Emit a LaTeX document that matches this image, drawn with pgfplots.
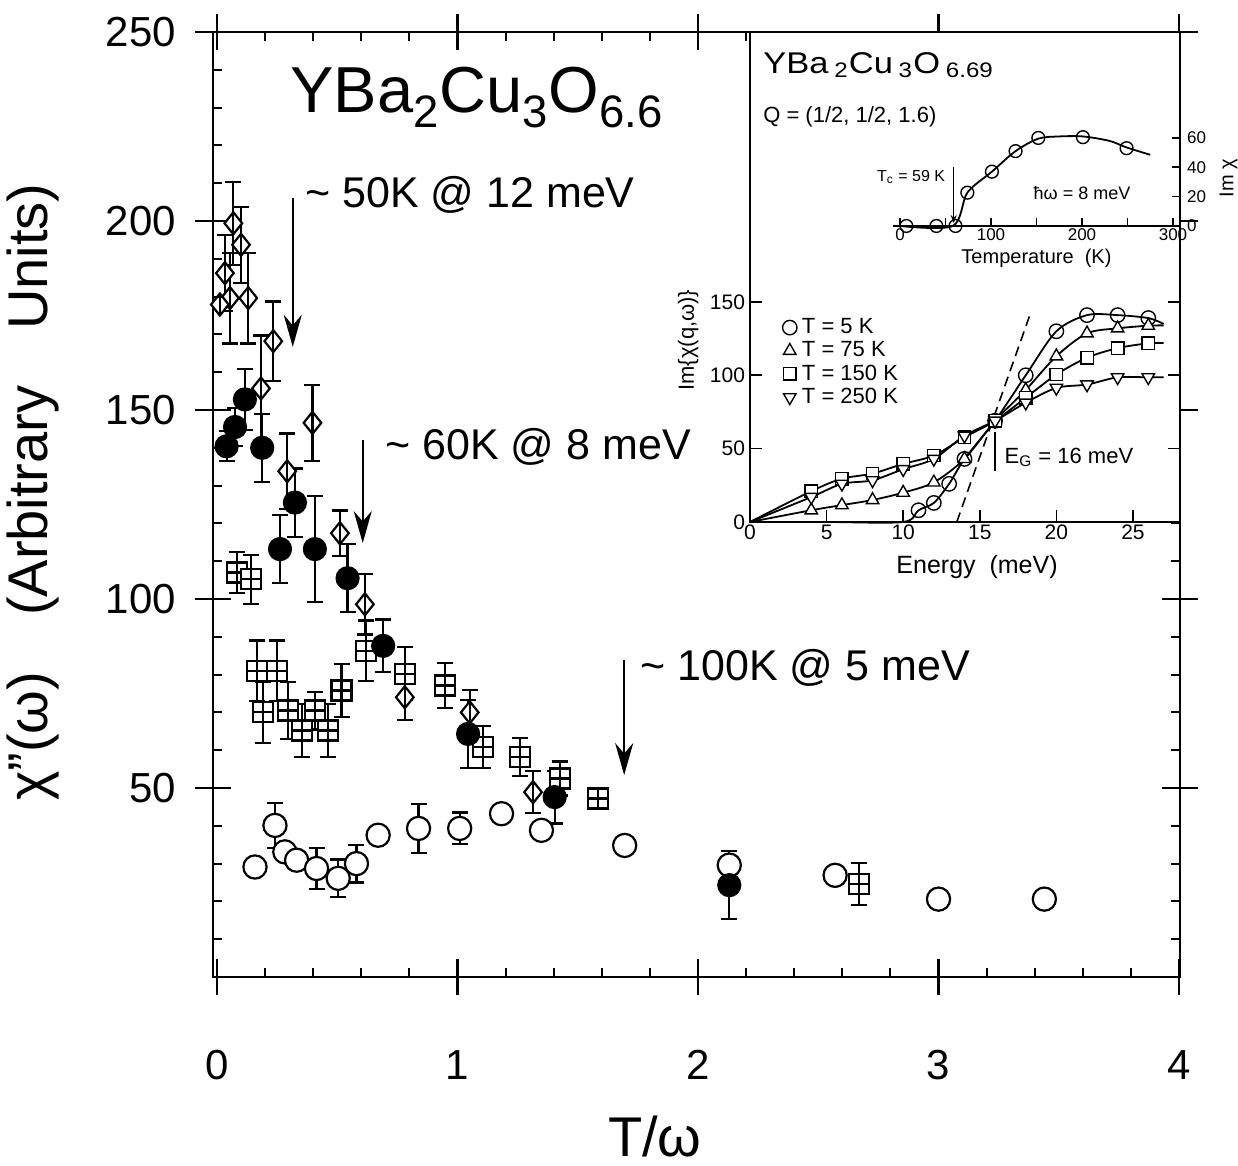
\documentclass[border=0pt]{standalone}
\usepackage{pgfplots}
\usepackage{pgfplotstable}
\pgfplotsset{compat=1.18}
\pgfplotsset{/pgf/number format/assume math mode=true}
\usepackage{fontspec}
\setmainfont{Liberation Sans}
\usetikzlibrary{arrows.meta}
\newcommand\fs[1]{\fontsize{#1}{#1}\selectfont}

\pgfdeclareplotmark{dline}{%
  \pgfpathmoveto{\pgfpoint{0pt}{\pgfplotmarksize}}%
  \pgfpathlineto{\pgfpoint{0.8\pgfplotmarksize}{0pt}}%
  \pgfpathlineto{\pgfpoint{0pt}{-\pgfplotmarksize}}%
  \pgfpathlineto{\pgfpoint{-0.8\pgfplotmarksize}{0pt}}%
  \pgfpathclose
  \pgfusepathqfillstroke
  \pgfpathmoveto{\pgfpoint{0pt}{\pgfplotmarksize}}%
  \pgfpathlineto{\pgfpoint{0pt}{-\pgfplotmarksize}}%
  \pgfusepathqstroke}
\pgfdeclareplotmark{sqplus}{%
  \pgfpathrectangle{\pgfpoint{-\pgfplotmarksize}{-\pgfplotmarksize}}{\pgfpoint{2\pgfplotmarksize}{2\pgfplotmarksize}}%
  \pgfusepathqfillstroke
  \pgfpathmoveto{\pgfpoint{-\pgfplotmarksize}{0pt}}%
  \pgfpathlineto{\pgfpoint{\pgfplotmarksize}{0pt}}%
  \pgfpathmoveto{\pgfpoint{0pt}{-\pgfplotmarksize}}%
  \pgfpathlineto{\pgfpoint{0pt}{\pgfplotmarksize}}%
  \pgfusepathqstroke}

% main data: x y err
\pgfplotstableread{
x y e
0.068 199.4 11
0.100 193.7 10
0.033 186.2 10
0.054 179.6 12
0.130 179.6 12
0.012 177.9 0
0.234 168.2 10.5
0.183 155.7 14
0.397 146.6 10
0.292 133.8 10
0.511 117.4 6
0.615 98.6 8
0.781 74.0 6
1.051 70.0 6
1.314 48.9 5.5
}\diamonds
\pgfplotstableread{
x y e
0.040 140.4 4
0.075 145.5 5
0.116 152.8 8
0.188 140.0 9
0.324 125.5 9
0.262 113.2 9
0.407 113.2 14
0.543 105.5 9
0.691 87.6 7
1.044 64.3 9
1.404 47.6 7
2.130 24.3 9
}\filled
\pgfplotstableread{
x y e
0.082 107.0 5.5
0.140 105.2 6.5
0.165 81.0 8
0.250 81.0 8
0.192 70.0 8
0.296 70.5 7.5
0.352 65.2 7
0.407 70.5 5
0.462 65.2 7
0.518 75.8 7
0.620 86.3 8
0.781 80.2 7
0.947 77.1 6
1.106 60.8 5.5
1.259 58.2 5
1.425 52.5 4.5
1.584 47.2 2
2.670 24.6 5.5
}\squares
\pgfplotstableread{
x y e
0.158 29.1 0
0.241 40.1 6
0.282 33.1 0
0.331 30.9 0
0.414 28.7 5.5
0.504 26.1 5
0.580 30.0 5
0.670 37.5 0
0.838 39.3 6.5
1.009 39.3 4.2
1.183 43.2 0
1.349 38.8 0
1.695 34.8 0
2.130 29.6 0
2.570 26.9 0
3.000 20.6 1.5
3.440 20.6 0
}\opencirc
% inset: energy scans
\pgfplotstableread{
E I
0 0
5 0
10 0
11 8
12 13
13 26
14 43
16 69
18 100
20 130
22 141
24 141
26 139
27 135
}\tfive
\pgfplotstableread{
E I
0 0
4 8
6 11.5
8 15
10 20
12 27
14 43
16 69
18 90
20 113
22 128.6
24 132
26 133.8
27 134
}\tseventyfive
\pgfplotstableread{
E I
0 0
4 21
6 29.5
8 33
10 39.6
12 45.3
14 57.7
16 69
18 84.7
20 100.5
22 112
24 118.5
26 121.8
27 122
}\tonefifty
\pgfplotstableread{
E I
0 0
4 17
6 26
8 28.4
10 36
12 43
14 58.8
16 69
18 81.3
20 91.4
22 93.7
24 98.6
26 98.6
27 98.6
}\ttwofifty
% inset: temperature scan at 8 meV
\pgfplotstableread{
T I
7 0
40 0
61 0
74 22.7
101 37
127 51
152 60
201 60.5
249 53
}\tscan
\pgfplotstableread{
T I
0 0
58 0
74 22.7
101 37
127 51
152 59.5
175 61
201 61
230 58
249 53.5
275 48.5
}\tcurve

\pgfplotsset{
  ebar/.style={error bars/.cd, y dir=both, y explicit,
    error bar style={line width=1.1pt, black},
    error mark=-,
    error mark options={rotate=90, line width=1.1pt, mark size=4pt, black}},
}

\begin{document}
\begin{tikzpicture}
\useasboundingbox (-106.5pt,-94.5pt) rectangle (512.5pt,488.5pt);
% ---------------- main axis
\begin{axis}[
  at={(0pt,0pt)}, anchor=south west,
  scale only axis, width=483.5pt, height=472.5pt,
  xmin=-0.0166, xmax=4.004, ymin=0, ymax=250,
  xtick={0,1,2,3,4}, xticklabels={0,1,2,3,4},
  ytick={50,100,150,200,250}, yticklabels={50,100,150,200,250},
  tick align=center, major tick length=18pt,
  tick style={line width=1.1pt, black},
  axis line style={line width=1.1pt},
  ticklabel style={font=\fs{21}},
  xticklabel style={anchor=base, yshift=-42.5pt},
  yticklabel style={xshift=-6pt},
  xlabel={T/ω},
  ylabel={χ\symbol{34}(ω)\quad(Arbitrary\quad Units)},
  xlabel style={at={(axis description cs:0.457,-0.169)}, anchor=center, font=\fs{28}},
  ylabel style={at={(axis description cs:-0.186,0.513)}, anchor=center, font=\fs{28}},
  clip=false,
  every axis plot/.append style={line width=1.1pt},
]
\addplot[only marks, mark=*, mark size=5.8pt, mark options={fill=white, draw=black, line width=1.1pt}, ebar]
  table[x=x, y=y, y error=e]{\opencirc};
\addplot[only marks, mark=sqplus, mark size=5pt, mark options={fill=white, draw=black, line width=1.1pt}, ebar]
  table[x=x, y=y, y error=e]{\squares};
\addplot[only marks, mark=dline, mark size=5.5pt, mark options={fill=white, draw=black, line width=1.1pt}, ebar]
  table[x=x, y=y, y error=e]{\diamonds};
\addplot[only marks, mark=*, mark size=5.5pt, mark options={fill=black, draw=black, line width=1.1pt}, ebar]
  table[x=x, y=y, y error=e]{\filled};
% title
\node[anchor=base west, font=\fs{32.5}, inner sep=0pt] at (axis cs:0.3035,228.6)
  {YBa\textsubscript{2}Cu\textsubscript{3}O\textsubscript{6.6}};
% annotations
\draw[line width=1.2pt, -{Stealth[length=16pt,width=9pt]}] (axis cs:0.315,206) -- (axis cs:0.315,166.7);
\node[anchor=west, font=\fs{21.5}, inner sep=0pt] at (axis cs:0.366,206.9) {\textasciitilde\ 50K @ 12 meV};
\draw[line width=1.2pt, -{Stealth[length=16pt,width=9pt]}] (axis cs:0.606,142) -- (axis cs:0.606,114.8);
\node[anchor=west, font=\fs{21.5}, inner sep=0pt] at (axis cs:0.699,140.2) {\textasciitilde\ 60K @ 8 meV};
\draw[line width=1.2pt, -{Stealth[length=16pt,width=9pt]}] (axis cs:1.693,83.9) -- (axis cs:1.693,53.4);
\node[anchor=west, font=\fs{21.5}, inner sep=0pt] at (axis cs:1.759,81.7) {\textasciitilde\ 100K @ 5 meV};
\end{axis}
% ---------------- minor ticks (inward)
\begin{axis}[
  at={(0pt,0pt)}, anchor=south west,
  scale only axis, width=483.5pt, height=472.5pt,
  xmin=-0.0166, xmax=4.004, ymin=0, ymax=250,
  xtick={0,1,2,3,4}, ytick={0,50,100,150,200,250},
  xticklabels={}, yticklabels={},
  minor x tick num=4, minor y tick num=4,
  tick align=inside, major tick length=0pt, minor tick length=4.5pt,
  tick style={line width=1pt, black},
  axis line style={draw=none},
]
\end{axis}
% ---------------- inset: energy scans
\begin{axis}[
  at={(268.5pt,227.5pt)}, anchor=south west,
  scale only axis, width=215pt, height=245pt,
  xmin=0, xmax=28.07, ymin=0, ymax=334,
  axis background/.style={fill=white},
  xtick={0,5,10,15,20,25}, ytick={0,50,100,150},
  xtick pos=left, ytick pos=both, yticklabel pos=left,
  tick align=inside, major tick length=6pt,
  tick style={line width=0.8pt, black},
  axis line style={line width=1pt},
  ticklabel style={font=\fs{10.5}},
  xticklabel style={yshift=2pt},
  yticklabel style={xshift=1pt},
  xlabel={Energy\ \ (meV)},
  xlabel style={at={(axis description cs:0.528,-0.092)}, anchor=center, font=\fs{12.5}},
  ylabel={Im\{χ(q,ω)\}},
  ylabel style={at={(axis description cs:-0.144,0.371)}, anchor=center, font=\fs{11}},
  clip=false,
  legend style={at={(axis cs:2.1,141)}, anchor=north west, draw=none, fill=none,
    font=\fs{11}, row sep=-0.5pt, inner sep=0pt, nodes={inner xsep=2.5pt, inner ysep=1.5pt}},
  legend cell align=left,
]
\addplot[black, line width=0.9pt, smooth, tension=0.5, forget plot] table[x=E, y=I]{\tfive};
\addplot[black, line width=0.9pt, smooth, tension=0.5, forget plot] table[x=E, y=I]{\tseventyfive};
\addplot[black, line width=0.9pt, smooth, tension=0.5, forget plot] table[x=E, y=I]{\tonefifty};
\addplot[black, line width=0.9pt, smooth, tension=0.5, forget plot] table[x=E, y=I]{\ttwofifty};
\addplot[only marks, mark=o, mark size=3.6pt, mark options={fill=white, draw=black, line width=0.7pt}]
  table[x=E, y=I, skip coords between index={0}{3}, skip coords between index={13}{14}]{\tfive};
\addlegendentry{T = 5 K}
\addplot[only marks, mark=triangle*, mark size=3.6pt, mark options={fill=white, draw=black, line width=0.7pt}]
  table[x=E, y=I, skip coords between index={0}{1}, skip coords between index={13}{14}]{\tseventyfive};
\addlegendentry{T = 75 K}
\addplot[only marks, mark=square*, mark size=3.1pt, mark options={fill=white, draw=black, line width=0.7pt}]
  table[x=E, y=I, skip coords between index={0}{1}, skip coords between index={13}{14}]{\tonefifty};
\addlegendentry{T = 150 K}
\addplot[only marks, mark=triangle*, mark size=3.6pt, mark options={fill=white, draw=black, line width=0.7pt, rotate=180}]
  table[x=E, y=I, skip coords between index={0}{1}, skip coords between index={13}{14}]{\ttwofifty};
\addlegendentry{T = 250 K}
\draw[dashed, line width=0.8pt, dash pattern=on 5pt off 3pt] (axis cs:13.5,0) -- (axis cs:18.3,142);
\draw[line width=0.7pt] (axis cs:16,35) -- (axis cs:16,61);
\node[anchor=west, font=\fs{11}, inner sep=0pt] at (axis cs:16.6,44) {E\textsubscript{G} = 16 meV};
\node[anchor=base west, font=\fs{15}, inner sep=0pt] at (rel axis cs:0.03,0.916)
  {\scalebox{1.15}[1]{YBa\,\textsubscript{2}Cu\,\textsubscript{3}O\,\textsubscript{6.69}}};
\node[anchor=base west, font=\fs{11}, inner sep=0pt] at (rel axis cs:0.03,0.816)
  {Q = (1/2, 1/2, 1.6)};
\end{axis}
% ---------------- inset of inset: temperature scan
\begin{axis}[
  at={(340pt,375.5pt)}, anchor=south west,
  scale only axis, width=143.5pt, height=48pt,
  xmin=-7.7, xmax=307.7, ymin=0, ymax=65.4,
  axis x line=bottom, axis y line=right,
  axis line style={-, line width=1pt},
  xtick={0,50,100,150,200,250,300}, xticklabels={0,,100,,200,,300},
  ytick={0,20,40,60},
  tick align=inside, major tick length=4pt,
  tick style={line width=0.8pt, black},
  ticklabel style={font=\fs{8.5}},
  xticklabel style={yshift=2pt},
  xlabel={Temperature\ \ (K)},
  xlabel style={font=\fs{10}, yshift=3pt},
  ylabel={Im χ},
  ylabel style={font=\fs{10}},
  clip=false,
]
\addplot[black, line width=0.9pt, smooth, tension=0.5] table[x=T, y=I]{\tcurve};
\addplot[only marks, mark=o, mark size=3.2pt, mark options={fill=white, draw=black, line width=0.7pt}]
  table[x=T, y=I]{\tscan};
\draw[line width=0.6pt, -{Stealth[length=4pt,width=3pt]}] (axis cs:59,40) -- (axis cs:59,2);
\node[anchor=east, font=\fs{8}, inner sep=0pt] at (axis cs:50,33.4) {T\textsubscript{c} = 59 K};
\node[font=\fs{9}, inner sep=0pt] at (axis cs:200,22.5) {ħω = 8 meV};
\end{axis}
\end{tikzpicture}
\end{document}
